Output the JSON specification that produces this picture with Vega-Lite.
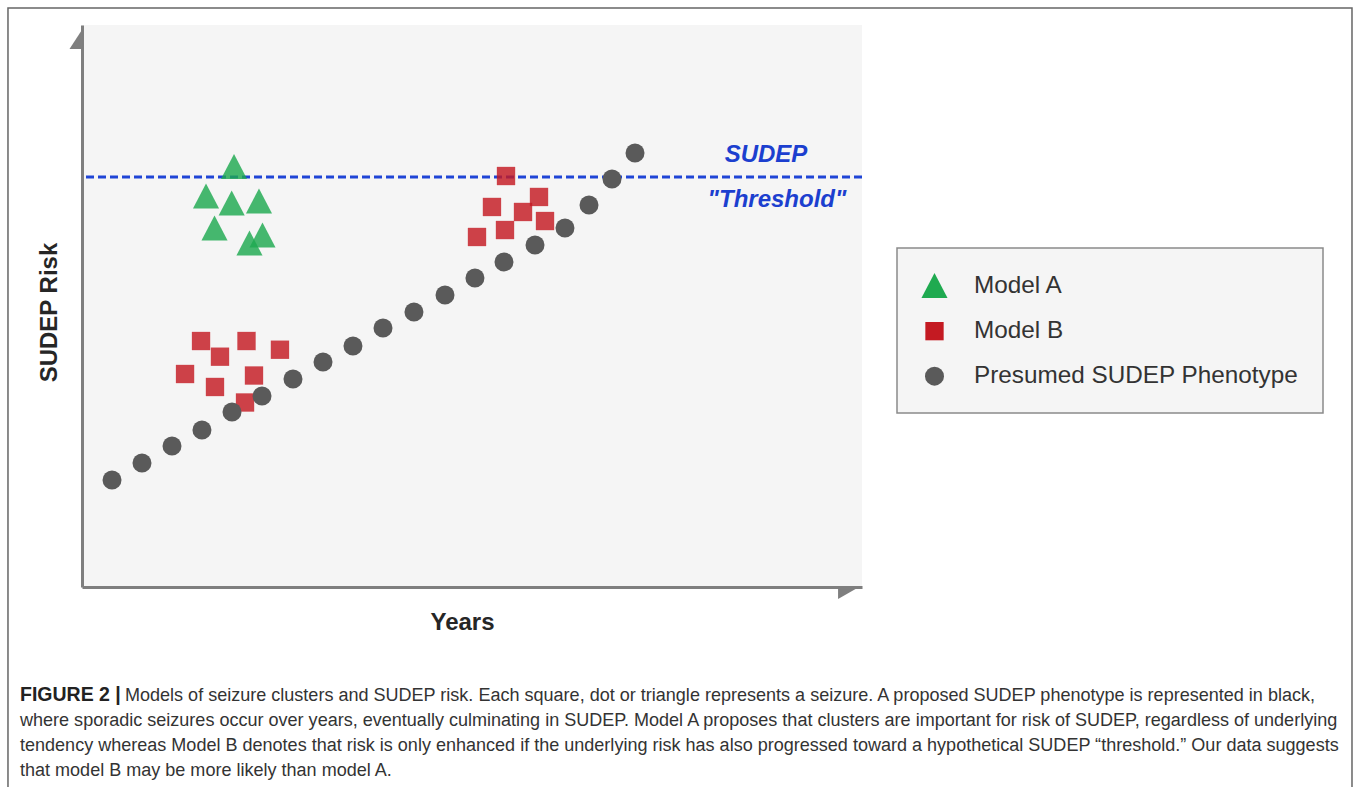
{
  "$schema": "https://vega.github.io/schema/vega-lite/v6.json",
  "width": 780,
  "height": 562,
  "autosize": {"type": "none"},
  "padding": {"left": 82, "top": 25, "right": 496, "bottom": 200},
  "background": "white",
  "config": {
    "view": {"fill": "#f5f5f5", "stroke": null},
    "font": "Liberation Sans",
    "axis": {"ticks": false, "labels": false, "grid": false, "domainColor": "#7f7f7f", "domainWidth": 3, "titleFont": "Liberation Sans", "titleFontSize": 24, "titleFontWeight": "bold", "titleColor": "#262626"},
    "axisX": {"titlePadding": 23, "titleX": 380},
    "axisY": {"titlePadding": 21, "titleY": 287},
    "legend": {
      "orient": "none",
      "legendX": 815,
      "legendY": 223,
      "padding": 24,
      "fillColor": "#f5f5f5",
      "strokeColor": "#8a8a8a",
      "strokeWidth": 1.5,
      "labelFont": "Liberation Sans",
      "labelFontSize": 24.3,
      "labelColor": "#333333",
      "labelOffset": 26,
      "labelLimit": 500,
      "rowPadding": 20,
      "symbolOpacity": 1,
      "symbolStrokeWidth": 0
    }
  },
  "datasets": {
    "seizures": [
      {"series": "Model A", "year": 19.49, "risk": 74.82},
      {"series": "Model A", "year": 15.90, "risk": 69.57},
      {"series": "Model A", "year": 19.19, "risk": 68.33},
      {"series": "Model A", "year": 22.69, "risk": 68.68},
      {"series": "Model A", "year": 16.99, "risk": 63.88},
      {"series": "Model A", "year": 23.14, "risk": 62.63},
      {"series": "Model A", "year": 21.47, "risk": 61.21},
      {"series": "Model B", "year": 15.26, "risk": 43.77},
      {"series": "Model B", "year": 21.09, "risk": 43.77},
      {"series": "Model B", "year": 17.69, "risk": 40.98},
      {"series": "Model B", "year": 25.38, "risk": 42.22},
      {"series": "Model B", "year": 13.21, "risk": 37.90},
      {"series": "Model B", "year": 22.05, "risk": 37.63},
      {"series": "Model B", "year": 17.05, "risk": 35.59},
      {"series": "Model B", "year": 20.90, "risk": 32.83},
      {"series": "Model B", "year": 54.36, "risk": 73.13},
      {"series": "Model B", "year": 52.56, "risk": 67.62},
      {"series": "Model B", "year": 58.59, "risk": 69.40},
      {"series": "Model B", "year": 56.54, "risk": 66.73},
      {"series": "Model B", "year": 59.36, "risk": 65.12},
      {"series": "Model B", "year": 50.64, "risk": 62.28},
      {"series": "Model B", "year": 54.23, "risk": 63.52},
      {"series": "Presumed SUDEP Phenotype", "year": 3.85, "risk": 19.04},
      {"series": "Presumed SUDEP Phenotype", "year": 7.69, "risk": 22.06},
      {"series": "Presumed SUDEP Phenotype", "year": 11.54, "risk": 25.09},
      {"series": "Presumed SUDEP Phenotype", "year": 15.38, "risk": 27.94},
      {"series": "Presumed SUDEP Phenotype", "year": 19.23, "risk": 31.14},
      {"series": "Presumed SUDEP Phenotype", "year": 23.08, "risk": 33.99},
      {"series": "Presumed SUDEP Phenotype", "year": 27.05, "risk": 37.01},
      {"series": "Presumed SUDEP Phenotype", "year": 30.90, "risk": 40.04},
      {"series": "Presumed SUDEP Phenotype", "year": 34.74, "risk": 42.88},
      {"series": "Presumed SUDEP Phenotype", "year": 38.59, "risk": 46.09},
      {"series": "Presumed SUDEP Phenotype", "year": 42.56, "risk": 48.93},
      {"series": "Presumed SUDEP Phenotype", "year": 46.54, "risk": 51.96},
      {"series": "Presumed SUDEP Phenotype", "year": 50.38, "risk": 54.98},
      {"series": "Presumed SUDEP Phenotype", "year": 54.10, "risk": 57.83},
      {"series": "Presumed SUDEP Phenotype", "year": 58.08, "risk": 60.85},
      {"series": "Presumed SUDEP Phenotype", "year": 61.92, "risk": 63.88},
      {"series": "Presumed SUDEP Phenotype", "year": 65.00, "risk": 67.97},
      {"series": "Presumed SUDEP Phenotype", "year": 67.95, "risk": 72.60},
      {"series": "Presumed SUDEP Phenotype", "year": 70.90, "risk": 77.22}
    ]
  },
  "layer": [
    {
      "data": {"values": [{}]},
      "mark": {"type": "rect", "fillOpacity": 0, "stroke": "#666666", "strokeWidth": 1.5},
      "encoding": {
        "x": {"datum": -9.49, "type": "quantitative", "title": "Years", "scale": {"domain": [0, 100], "nice": false, "zero": false}},
        "x2": {"datum": 162.82},
        "y": {"datum": 103.02, "type": "quantitative", "title": "SUDEP Risk", "scale": {"domain": [0, 100], "nice": false, "zero": false}},
        "y2": {"datum": -45}
      }
    },
    {
      "data": {"values": [{}]},
      "mark": {"type": "rule", "color": "#1f45d6", "strokeWidth": 3, "strokeDash": [8, 4]},
      "encoding": {
        "y": {"datum": 72.95, "type": "quantitative", "title": "SUDEP Risk", "scale": {"domain": [0, 100], "nice": false, "zero": false}}
      }
    },
    {
      "data": {"values": [{}]},
      "mark": {"type": "text", "text": "SUDEP", "font": "Liberation Sans", "fontSize": 24, "fontWeight": "bold", "fontStyle": "italic", "color": "#1c3fcf", "align": "center", "baseline": "middle"},
      "encoding": {
        "x": {"datum": 87.69, "type": "quantitative", "title": "Years", "scale": {"domain": [0, 100], "nice": false, "zero": false}},
        "y": {"datum": 76.87, "type": "quantitative", "title": "SUDEP Risk", "scale": {"domain": [0, 100], "nice": false, "zero": false}}
      }
    },
    {
      "data": {"values": [{}]},
      "mark": {"type": "text", "text": "\"Threshold\"", "font": "Liberation Sans", "fontSize": 24, "fontWeight": "bold", "fontStyle": "italic", "color": "#1c3fcf", "align": "center", "baseline": "middle"},
      "encoding": {
        "x": {"datum": 89.1, "type": "quantitative", "title": "Years", "scale": {"domain": [0, 100], "nice": false, "zero": false}},
        "y": {"datum": 68.86, "type": "quantitative", "title": "SUDEP Risk", "scale": {"domain": [0, 100], "nice": false, "zero": false}}
      }
    },
    {
      "data": {"name": "seizures"},
      "transform": [{"filter": "datum.series !== 'Presumed SUDEP Phenotype'"}],
      "mark": {"type": "point", "filled": true, "opacity": 0.82, "strokeWidth": 0},
      "encoding": {
        "x": {"field": "year", "type": "quantitative", "title": "Years", "scale": {"domain": [0, 100], "nice": false, "zero": false}},
        "y": {"field": "risk", "type": "quantitative", "title": "SUDEP Risk", "scale": {"domain": [0, 100], "nice": false, "zero": false}},
        "color": {"field": "series", "type": "nominal", "scale": {"domain": ["Model A", "Model B", "Presumed SUDEP Phenotype"], "range": ["#1faa50", "#c41a22", "#5a5a5a"]}, "legend": {"title": null}},
        "shape": {"field": "series", "type": "nominal", "scale": {"domain": ["Model A", "Model B", "Presumed SUDEP Phenotype"], "range": ["M0,-0.96L1,0.96L-1,0.96Z", "square", "circle"]}, "legend": {"title": null}},
        "size": {"field": "series", "type": "nominal", "scale": {"type": "ordinal", "domain": ["Model A", "Model B", "Presumed SUDEP Phenotype"], "range": [680, 336, 361]}, "legend": {"title": null}}
      }
    },
    {
      "data": {"name": "seizures"},
      "transform": [{"filter": "datum.series === 'Presumed SUDEP Phenotype'"}],
      "mark": {"type": "point", "filled": true, "opacity": 1, "strokeWidth": 0},
      "encoding": {
        "x": {"field": "year", "type": "quantitative", "title": "Years", "scale": {"domain": [0, 100], "nice": false, "zero": false}},
        "y": {"field": "risk", "type": "quantitative", "title": "SUDEP Risk", "scale": {"domain": [0, 100], "nice": false, "zero": false}},
        "color": {"field": "series", "type": "nominal", "scale": {"domain": ["Model A", "Model B", "Presumed SUDEP Phenotype"], "range": ["#1faa50", "#c41a22", "#5a5a5a"]}, "legend": {"title": null}},
        "shape": {"field": "series", "type": "nominal", "scale": {"domain": ["Model A", "Model B", "Presumed SUDEP Phenotype"], "range": ["M0,-0.96L1,0.96L-1,0.96Z", "square", "circle"]}, "legend": {"title": null}},
        "size": {"field": "series", "type": "nominal", "scale": {"type": "ordinal", "domain": ["Model A", "Model B", "Presumed SUDEP Phenotype"], "range": [680, 336, 361]}, "legend": {"title": null}}
      }
    },
    {
      "data": {"values": [{}]},
      "mark": {"type": "point", "filled": true, "shape": "M0,0L0,2L-1.3,2Z", "size": 400, "color": "#7f7f7f", "opacity": 1, "strokeWidth": 0},
      "encoding": {
        "x": {"datum": 0.064, "type": "quantitative", "title": "Years", "scale": {"domain": [0, 100], "nice": false, "zero": false}},
        "y": {"datum": 99.29, "type": "quantitative", "title": "SUDEP Risk", "scale": {"domain": [0, 100], "nice": false, "zero": false}}
      }
    },
    {
      "data": {"values": [{}]},
      "mark": {"type": "point", "filled": true, "shape": "M0,0L-2,0L-2,1.14Z", "size": 441, "color": "#7f7f7f", "opacity": 1, "strokeWidth": 0},
      "encoding": {
        "x": {"datum": 99.62, "type": "quantitative", "title": "Years", "scale": {"domain": [0, 100], "nice": false, "zero": false}},
        "y": {"datum": 0, "type": "quantitative", "title": "SUDEP Risk", "scale": {"domain": [0, 100], "nice": false, "zero": false}}
      }
    },
    {
      "data": {"values": [{}]},
      "mark": {"type": "text", "text": "FIGURE 2 |", "font": "Liberation Sans", "fontSize": 19.5, "fontWeight": "bold", "color": "#222222", "align": "left", "baseline": "alphabetic"},
      "encoding": {
        "x": {"datum": -7.95, "type": "quantitative", "title": "Years", "scale": {"domain": [0, 100], "nice": false, "zero": false}},
        "y": {"datum": -20.28, "type": "quantitative", "title": "SUDEP Risk", "scale": {"domain": [0, 100], "nice": false, "zero": false}}
      }
    },
    {
      "data": {"values": [{}]},
      "mark": {"type": "text", "text": "Models of seizure clusters and SUDEP risk. Each square, dot or triangle represents a seizure. A proposed SUDEP phenotype is represented in black,", "font": "Liberation Sans", "fontSize": 18.05, "color": "#333333", "align": "left", "baseline": "alphabetic"},
      "encoding": {
        "x": {"datum": 5.51, "type": "quantitative", "title": "Years", "scale": {"domain": [0, 100], "nice": false, "zero": false}},
        "y": {"datum": -20.28, "type": "quantitative", "title": "SUDEP Risk", "scale": {"domain": [0, 100], "nice": false, "zero": false}}
      }
    },
    {
      "data": {"values": [{}]},
      "mark": {"type": "text", "text": "where sporadic seizures occur over years, eventually culminating in SUDEP. Model A proposes that clusters are important for risk of SUDEP, regardless of underlying", "font": "Liberation Sans", "fontSize": 18.05, "color": "#333333", "align": "left", "baseline": "alphabetic"},
      "encoding": {
        "x": {"datum": -7.95, "type": "quantitative", "title": "Years", "scale": {"domain": [0, 100], "nice": false, "zero": false}},
        "y": {"datum": -24.73, "type": "quantitative", "title": "SUDEP Risk", "scale": {"domain": [0, 100], "nice": false, "zero": false}}
      }
    },
    {
      "data": {"values": [{}]},
      "mark": {"type": "text", "text": "tendency whereas Model B denotes that risk is only enhanced if the underlying risk has also progressed toward a hypothetical SUDEP “threshold.” Our data suggests", "font": "Liberation Sans", "fontSize": 18.05, "color": "#333333", "align": "left", "baseline": "alphabetic"},
      "encoding": {
        "x": {"datum": -7.95, "type": "quantitative", "title": "Years", "scale": {"domain": [0, 100], "nice": false, "zero": false}},
        "y": {"datum": -29.18, "type": "quantitative", "title": "SUDEP Risk", "scale": {"domain": [0, 100], "nice": false, "zero": false}}
      }
    },
    {
      "data": {"values": [{}]},
      "mark": {"type": "text", "text": "that model B may be more likely than model A.", "font": "Liberation Sans", "fontSize": 18.05, "color": "#333333", "align": "left", "baseline": "alphabetic"},
      "encoding": {
        "x": {"datum": -7.95, "type": "quantitative", "title": "Years", "scale": {"domain": [0, 100], "nice": false, "zero": false}},
        "y": {"datum": -33.63, "type": "quantitative", "title": "SUDEP Risk", "scale": {"domain": [0, 100], "nice": false, "zero": false}}
      }
    }
  ]
}
